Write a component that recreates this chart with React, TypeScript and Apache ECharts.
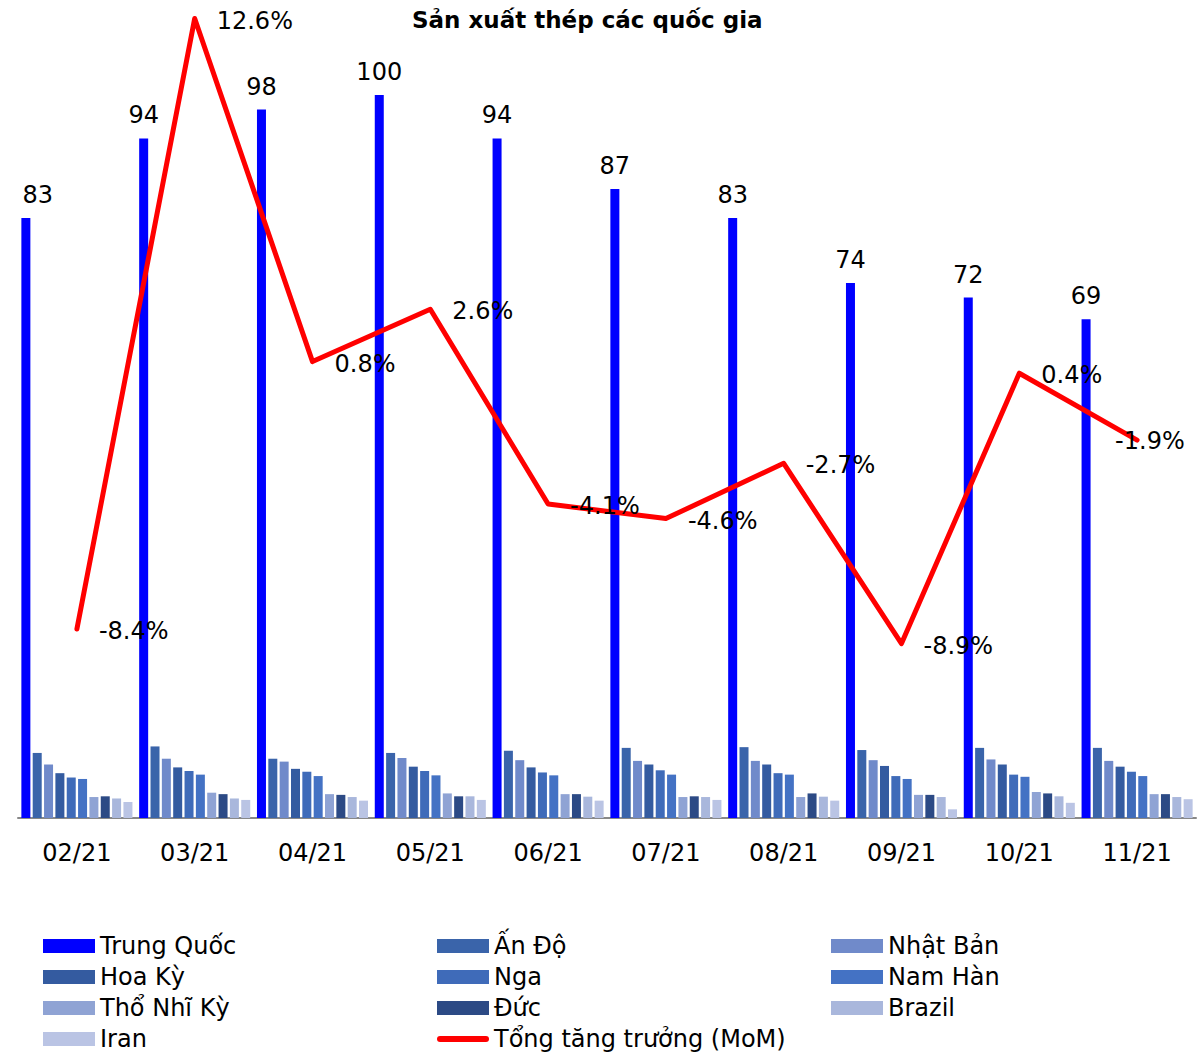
import React, { useEffect, useRef } from "react";
import * as echarts from "echarts";

const categories = ["02/21", "03/21", "04/21", "05/21", "06/21", "07/21", "08/21", "09/21", "10/21", "11/21"];

const trungQuoc = [83, 94, 98, 100, 94, 87, 83, 74, 72, 69];
const anDo = [9.0, 9.9, 8.2, 9.0, 9.3, 9.7, 9.8, 9.4, 9.7, 9.7];
const nhatBan = [7.4, 8.2, 7.8, 8.3, 8.0, 7.9, 7.9, 8.0, 8.1, 7.9];
const hoaKy = [6.2, 7.0, 6.8, 7.1, 7.0, 7.4, 7.4, 7.2, 7.4, 7.1];
const nga = [5.6, 6.5, 6.4, 6.5, 6.3, 6.6, 6.2, 5.8, 6.0, 6.4];
const namHan = [5.4, 6.0, 5.8, 5.9, 5.9, 6.0, 6.0, 5.4, 5.7, 5.8];
const thoNhiKy = [2.9, 3.5, 3.3, 3.4, 3.3, 2.9, 2.9, 3.2, 3.6, 3.3];
const duc = [3.0, 3.3, 3.2, 3.0, 3.3, 3.0, 3.4, 3.2, 3.4, 3.3];
const brazil = [2.7, 2.7, 2.9, 3.0, 2.95, 2.9, 2.95, 2.9, 3.0, 2.9];
const iran = [2.2, 2.5, 2.4, 2.5, 2.4, 2.5, 2.4, 1.2, 2.1, 2.6];
const tongTangTruong = [-8.4, 12.6, 0.8, 2.6, -4.1, -4.6, -2.7, -8.9, 0.4, -1.9];

const barSeriesDefs = [
  { name: "Trung Quốc", data: trungQuoc, color: "#0000FF" },
  { name: "Ấn Độ", data: anDo, color: "#3A64AA" },
  { name: "Nhật Bản", data: nhatBan, color: "#708ACA" },
  { name: "Hoa Kỳ", data: hoaKy, color: "#345BA0" },
  { name: "Nga", data: nga, color: "#3F6BB9" },
  { name: "Nam Hàn", data: namHan, color: "#4472C4" },
  { name: "Thổ Nhĩ Kỳ", data: thoNhiKy, color: "#8FA3D4" },
  { name: "Đức", data: duc, color: "#2C4A85" },
  { name: "Brazil", data: brazil, color: "#A9B7DC" },
  { name: "Iran", data: iran, color: "#BAC4E4" },
];
const lineName = "Tổng tăng trưởng (MoM)";

const FONT = "DejaVu Sans";

export default function App() {
  const ref = useRef<HTMLDivElement>(null);
  useEffect(() => {
    if (!ref.current) return;
    const chart = echarts.init(ref.current, null, { renderer: "svg" });

    const barSeries = barSeriesDefs.map((d, i) => ({
      name: d.name,
      type: "bar",
      yAxisIndex: 0,
      barWidth: 9,
      barGap: "26%",
      itemStyle: { color: d.color },
      data:
        i === 0
          ? d.data.map((v, j) => (j === 0 ? { value: v, label: { offset: [12, 0] } } : v))
          : d.data,
      label:
        i === 0
          ? {
              show: true,
              position: "top",
              distance: 11,
              fontFamily: FONT,
              fontSize: 24,
              color: "#000",
            }
          : { show: false },
    }));

    const lineData = tongTangTruong.map((v, j) =>
      j === tongTangTruong.length - 1 ? { value: v, label: { offset: [-44, 1] } } : v
    );

    const lineIcon = "path://M3,0 L49,0 A3,3 0 0 1 49,6 L3,6 A3,3 0 0 1 3,0 Z";
    const col1 = ["Trung Quốc", "Hoa Kỳ", "Thổ Nhĩ Kỳ", "Iran"];
    const col2 = ["Ấn Độ", "Nga", "Đức", lineName];
    const col3 = ["Nhật Bản", "Nam Hàn", "Brazil"];
    const mkLegend = (names: string[], left: number) => ({
      orient: "vertical",
      left,
      top: 934,
      padding: 0,
      itemGap: 7,
      itemWidth: 52,
      itemHeight: 14,
      textStyle: { fontFamily: FONT, fontSize: 24, color: "#000", lineHeight: 24 },
      data: names.map((n) =>
        n === lineName
          ? { name: n, icon: lineIcon, itemStyle: { color: "#FF0000" } }
          : { name: n, icon: "rect" }
      ),
    });

    chart.setOption({
      animation: false,
      backgroundColor: "#fff",
      title: {
        text: "Sản xuất thép các quốc gia",
        left: 412,
        top: 8,
        padding: 0,
        textStyle: { fontFamily: FONT, fontSize: 23, fontWeight: "bold", color: "#000" },
      },
      legend: [mkLegend(col1, 43), mkLegend(col2, 437), mkLegend(col3, 831)],
      grid: { left: 18, right: 8, top: 4, bottom: 238, containLabel: false },
      xAxis: {
        type: "category",
        data: categories,
        axisLine: { show: true, lineStyle: { color: "#888", width: 2 } },
        axisTick: { show: false },
        axisLabel: { fontFamily: FONT, fontSize: 24, color: "#000", margin: 23 },
      },
      yAxis: [
        { type: "value", min: 0, max: 112.6, show: false, splitLine: { show: false } },
        { type: "value", min: -14.9, max: 13.1, show: false, splitLine: { show: false } },
      ],
      series: [
        ...barSeries,
        {
          name: lineName,
          type: "line",
          yAxisIndex: 1,
          data: lineData,
          symbol: "circle",
          symbolSize: 0,
          showSymbol: true,
          clip: false,
          lineStyle: { color: "#FF0000", width: 5, cap: "round", join: "round" },
          itemStyle: { color: "#FF0000" },
          z: 5,
          label: {
            show: true,
            position: "right",
            distance: 22,
            fontFamily: FONT,
            fontSize: 24,
            color: "#000",
            offset: [0, 2],
            formatter: (p: any) => `${Number(p.value).toFixed(1)}%`,
          },
        },
      ],
    });
    return () => chart.dispose();
  }, []);
  return (
    <div
      ref={ref}
      style={{ position: "fixed", left: 0, top: 0, width: 1204, height: 1056 }}
    />
  );
}
